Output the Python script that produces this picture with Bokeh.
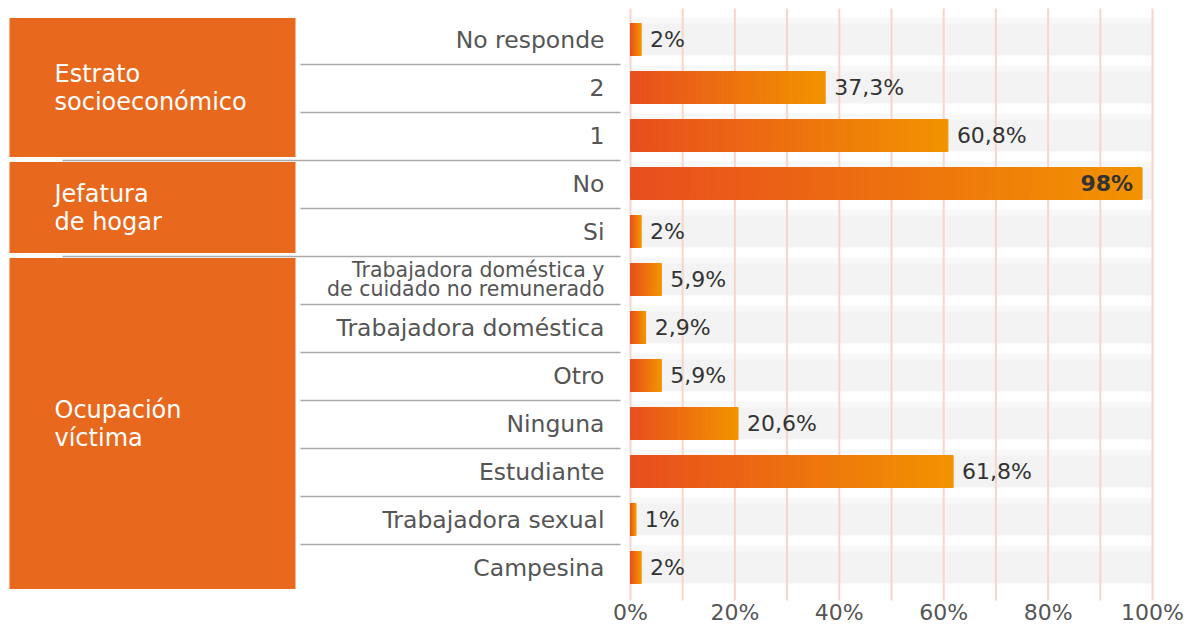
import numpy as np
from bokeh.plotting import figure
from bokeh.models import Range1d
from bokeh.core.properties import value
from bokeh.embed import file_html
from bokeh.resources import INLINE

# ---------------- data ----------------
categories = ["No responde", "2", "1", "No", "Si",
              "Trabajadora doméstica y\nde cuidado no remunerado",
              "Trabajadora doméstica", "Otro", "Ninguna", "Estudiante",
              "Trabajadora sexual", "Campesina"]
values = [2, 37.3, 60.8, 98, 2, 5.9, 2.9, 5.9, 20.6, 61.8, 1, 2]
value_labels = ["2%", "37,3%", "60,8%", "98%", "2%", "5,9%", "2,9%", "5,9%",
                "20,6%", "61,8%", "1%", "2%"]
groups = ["Estrato\nsocioeconómico", "Jefatura\nde hogar", "Ocupación\nvíctima"]
group_sizes = [3, 2, 7]
tick_values = [0, 20, 40, 60, 80, 100]
tick_labels = ["0%", "20%", "40%", "60%", "80%", "100%"]
grid_values = list(range(0, 101, 10))

# ---------------- layout helpers ----------------
FONT = "DejaVu Sans"
W, H = 1190, 628
X0, PXPCT = 630.0, 5.22     # px of 0 %, px per percent
Y0, ROW = 40.0, 48.0        # px of first row centre, row pitch


def fx(px):
    return (px - X0) / PXPCT


def fy(py):
    return (py - Y0) / ROW


def dy(px):
    return px / ROW


p = figure(width=W, height=H, x_range=Range1d(fx(0), fx(W)),
           y_range=Range1d(fy(H), fy(0)), output_backend="svg",
           toolbar_location=None, min_border=0,
           x_axis_location=None, y_axis_location=None)
p.grid.visible = False
p.outline_line_color = None
p.background_fill_color = "white"
p.border_fill_color = "white"

n = len(categories)
rows = np.arange(n)

# background bands
p.quad(left=0, right=100, top=rows - dy(23), bottom=rows - dy(17),
       fill_color="#f8f8f8", line_color=None)
p.quad(left=0, right=100, top=rows - dy(17), bottom=rows + dy(15),
       fill_color="#f3f3f3", line_color=None)

# vertical grid
p.segment(x0=grid_values, x1=grid_values, y0=fy(8), y1=fy(600),
          line_color="#f6d6cb", line_width=2)

# gradient bars
c0 = np.array([0xE8, 0x4E, 0x1E])
c1 = np.array([0xF2, 0x93, 0x00])
N = 60
L, R, T, B, C = [], [], [], [], []
for i, v in enumerate(values):
    for k in range(N):
        t = (k + 0.5) / N
        col = (c0 + (c1 - c0) * t).round().astype(int)
        L.append(v * k / N)
        R.append(v * (k + 1) / N)
        T.append(i - dy(17))
        B.append(i + dy(15))
        C.append("#%02x%02x%02x" % tuple(col))
p.quad(left=L, right=R, top=T, bottom=B, fill_color=C, line_color=C,
       line_width=1.0)

# value labels
out_i = [i for i, v in enumerate(values) if v < 90]
in_i = [i for i, v in enumerate(values) if v >= 90]
p.text(x=[values[i] for i in out_i], y=[i - dy(1) for i in out_i],
       text=[value_labels[i] for i in out_i], x_offset=9,
       text_align="left", text_baseline="middle", text_color="#333333",
       text_font=value(FONT), text_font_size="22px")
p.text(x=[values[i] for i in in_i], y=[i - dy(1) for i in in_i],
       text=[value_labels[i] for i in in_i], x_offset=-9,
       text_align="right", text_baseline="middle", text_color="#333333",
       text_font=value(FONT), text_font_size="22px", text_font_style="bold")

# category labels
single = [i for i, c in enumerate(categories) if "\n" not in c]
multi = [i for i, c in enumerate(categories) if "\n" in c]
p.text(x=fx(604), y=[i - dy(1) for i in single],
       text=[categories[i] for i in single], text_align="right",
       text_baseline="middle", text_color="#555555",
       text_font=value(FONT), text_font_size="23.5px")
p.text(x=fx(604), y=[i - dy(1) for i in multi],
       text=[categories[i] for i in multi], text_align="right",
       text_baseline="middle", text_color="#555555",
       text_font=value(FONT), text_font_size="20.5px", text_line_height=0.8)

# separators and group boxes
bounds = np.concatenate([[0], np.cumsum(group_sizes)]) - 0.5
grp_edges = set(bounds[1:-1].tolist())
sx0, sx1, sy = [], [], []
for b in np.arange(0.5, n - 1, 1.0):
    sx0.append(fx(62) if b in grp_edges else fx(300))
    sx1.append(fx(620))
    sy.append(b)
p.segment(x0=sx0, x1=sx1, y0=sy, y1=sy, line_color="#aaaaaa", line_width=1.5)

p.quad(left=fx(9), right=fx(295), top=bounds[:-1] + dy(1.5),
       bottom=bounds[1:] - dy(3.5), fill_color="#e8681e", line_color=None)
p.text(x=fx(54), y=(bounds[:-1] + bounds[1:]) / 2 - dy(1), text=groups,
       text_align="left", text_baseline="middle", text_color="white",
       text_font=value(FONT), text_font_size="24px", text_line_height=1.0)

# x tick labels
p.text(x=tick_values, y=fy(612), text=tick_labels, text_align="center",
       text_baseline="middle", text_color="#555555",
       text_font=value(FONT), text_font_size="22px")

open("out.html", "w").write(file_html(p, INLINE))
